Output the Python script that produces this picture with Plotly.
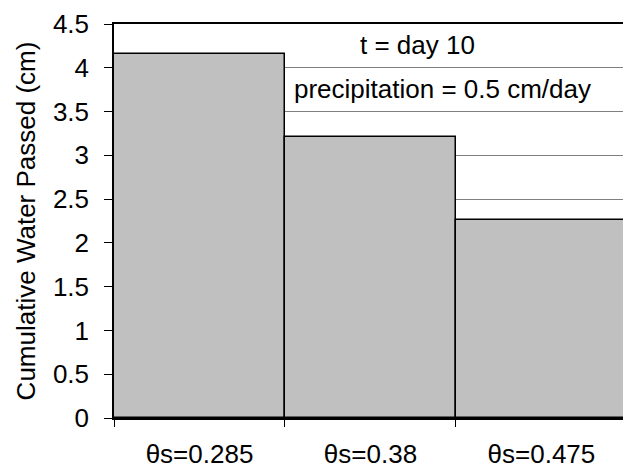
import plotly.graph_objects as go

# Saturated water content cases and cumulative water passed at day 10
categories = ["θs=0.285", "θs=0.38", "θs=0.475"]
water_passed = [4.16, 3.21, 2.26]
y_ticks = [0, 0.5, 1, 1.5, 2, 2.5, 3, 3.5, 4, 4.5]
y_tick_labels = ["0", "0.5", "1", "1.5", "2", "2.5", "3", "3.5", "4", "4.5"]

FONT = "Liberation Sans, Arial, sans-serif"
SIZE = 26

fig = go.Figure(
    go.Bar(
        x=categories,
        y=water_passed,
        width=1,
        marker=dict(color="#c0c0c0", line=dict(color="black", width=1.5)),
    )
)

fig.add_annotation(
    text="t = day 10", xref="paper", yref="paper", x=0.597, y=0.947,
    xanchor="center", yanchor="middle",
    showarrow=False, font=dict(family=FONT, size=SIZE, color="black"),
)
fig.add_annotation(
    text="precipitation = 0.5 cm/day", xref="paper", yref="paper", x=0.646, y=0.835,
    xanchor="center", yanchor="middle",
    showarrow=False, font=dict(family=FONT, size=SIZE, color="black"),
)

fig.update_layout(
    width=623,
    height=468,
    margin=dict(l=114, r=0, t=24, b=50),
    paper_bgcolor="white",
    plot_bgcolor="white",
    bargap=0,
    showlegend=False,
    font=dict(family=FONT, size=SIZE, color="black"),
)

fig.update_xaxes(
    type="category",
    range=[-0.5, 2.477],
    showline=True,
    linecolor="black",
    linewidth=1.5,
    mirror=True,
    ticks="outside",
    tickson="boundaries",
    ticklen=7,
    tickcolor="black",
    showgrid=False,
    ticklabelstandoff=12,
    tickfont=dict(family=FONT, size=SIZE, color="black"),
)

fig.update_yaxes(
    range=[0, 4.5],
    tickvals=y_ticks,
    ticktext=y_tick_labels,
    showline=True,
    linecolor="black",
    linewidth=1.5,
    ticks="outside",
    ticklen=8,
    tickcolor="black",
    showgrid=True,
    gridcolor="#808080",
    gridwidth=1,
    zeroline=False,
    ticklabelstandoff=10,
    tickfont=dict(family=FONT, size=SIZE, color="black"),
    title=dict(text="Cumulative Water Passed (cm)", font=dict(family=FONT, size=SIZE, color="black"), standoff=10),
)

fig.write_html("out.html")
